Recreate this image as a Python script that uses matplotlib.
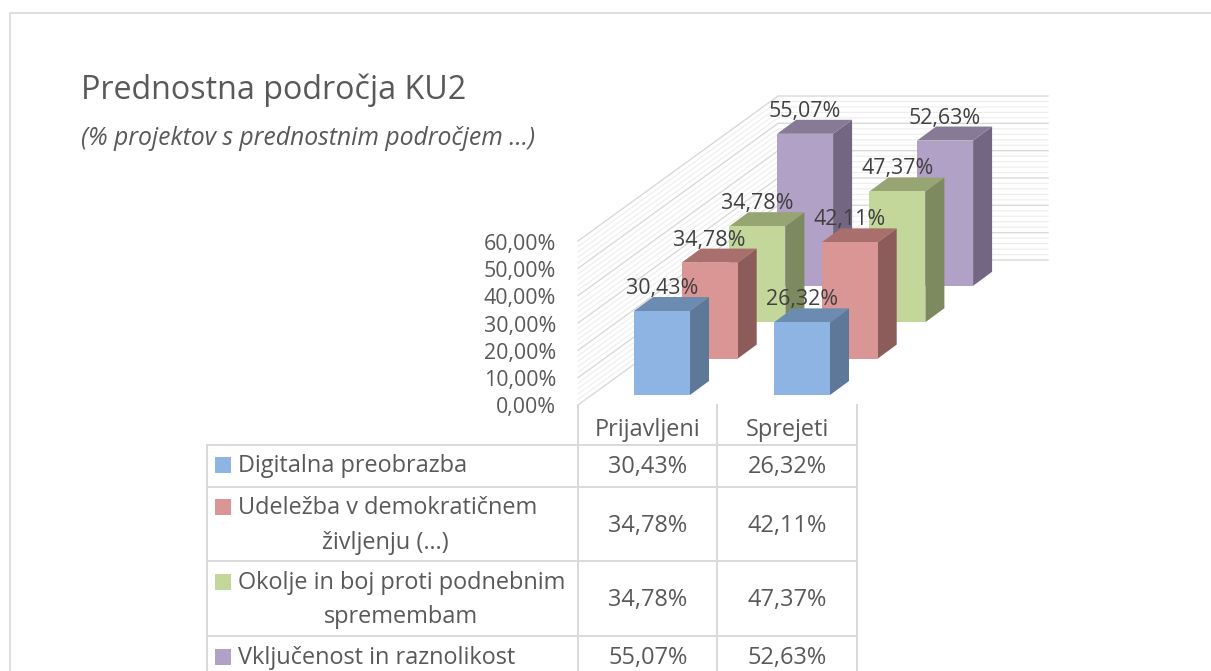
import matplotlib
matplotlib.use("Agg")
import matplotlib.pyplot as plt
from matplotlib.patches import Polygon, Rectangle

title = "Prednostna področja KU2"
subtitle = "(% projektov s prednostnim področjem ...)"
categories = ["Prijavljeni", "Sprejeti"]
series_names = [
    "Digitalna preobrazba",
    "Udeležba v demokratičnem\nživljenju (…)",
    "Okolje in boj proti podnebnim\nspremembam",
    "Vključenost in raznolikost",
]
digitalna = [30.43, 26.32]
udelezba = [34.78, 42.11]
okolje = [34.78, 47.37]
vkljucenost = [55.07, 52.63]
y_ticks = [0, 10, 20, 30, 40, 50, 60]

front_colors = ["#8DB4E3", "#DA9694", "#C4D79B", "#B2A1C7"]
side_colors = ["#5D7898", "#8C5C5B", "#7D8A60", "#736682"]
top_colors = ["#6C8BB0", "#A96F6D", "#97A573", "#867A97"]
TEXT = "#595959"
DARK = "#404040"
GRID = "#D9D9D9"
MINOR = "#EDEDED"
FONT = "Open Sans"
FS_AXIS = 15.4
FS_TABLE = 16.9

# oblique projection of the excel 3d chart, in pixels
X0, Y0 = 634, 395      # front left foot of first bar
CAT_STEP = 140
DEPTH_X, DEPTH_Y = 47.7, -36.4
BAR_W = 56
SIDE_X, SIDE_Y = 19, -14
PX_PER_PCT = 2.76
WALL_X, WALL_Y = 578, 405
WALL_BACK_X, WALL_BACK_Y = 778, 260
WALL_END_X = 1048
AXIS_PX_PER_PCT = 2.733


def fmt(v):
    return f"{v:.2f}%".replace(".", ",")


def bar_corners(cat, ser, value):
    left = X0 + cat * CAT_STEP + ser * DEPTH_X
    foot = Y0 + ser * DEPTH_Y
    return left, foot, foot - value * PX_PER_PCT


def draw_bar(ax, cat, ser, value):
    left, foot, top = bar_corners(cat, ser, value)
    right = left + BAR_W
    ax.add_patch(Polygon([(right, foot), (right, top), (right + SIDE_X, top + SIDE_Y),
                          (right + SIDE_X, foot + SIDE_Y)], fc=side_colors[ser], ec="none", zorder=3))
    ax.add_patch(Polygon([(left, top), (right, top), (right + SIDE_X, top + SIDE_Y),
                          (left + SIDE_X, top + SIDE_Y)], fc=top_colors[ser], ec="none", zorder=3))
    ax.add_patch(Rectangle((left, top), BAR_W, foot - top, fc=front_colors[ser], ec="none", zorder=3))


fig = plt.figure(figsize=(12.11, 6.71), dpi=100)
ax = fig.add_axes([0, 0, 1, 1])
ax.set_xlim(0, 1211)
ax.set_ylim(671, 0)
ax.axis("off")

# outer frame
ax.plot([1211, 10, 10], [12.5, 12.5, 671], color="#D9D9D9", lw=1.2)

ax.text(81, 90, title, fontsize=23.2, family=FONT, color=TEXT, va="center")
ax.text(81, 138.5, subtitle, fontsize=17.8, family=FONT, style="italic", color=TEXT, va="center")

# walls with gridlines, five minor steps per major
for i in range(0, 61, 2):
    h = i * AXIS_PX_PER_PCT
    major = i % 10 == 0
    col = GRID if major else MINOR
    lw = 1.0 if major else 0.8
    ax.plot([WALL_X, WALL_BACK_X, WALL_END_X],
            [WALL_Y - h, WALL_BACK_Y - h, WALL_BACK_Y - h], color=col, lw=lw, zorder=1 if not major else 2)

for v in y_ticks:
    ax.text(556, WALL_Y + 3 - v * AXIS_PX_PER_PCT, fmt(v), fontsize=FS_AXIS, family=FONT, color=TEXT,
            ha="right", va="center", zorder=6)

all_series = [digitalna, udelezba, okolje, vkljucenost]
for ser in range(3, -1, -1):
    for cat in (1, 0):
        draw_bar(ax, cat, ser, all_series[ser][cat])

for ser in range(4):
    for cat in range(2):
        left, foot, top = bar_corners(cat, ser, all_series[ser][cat])
        ax.text(left + BAR_W / 2, top - 22.5, fmt(all_series[ser][cat]), fontsize=FS_AXIS, family=FONT,
                color=DARK, ha="center", va="center", zorder=7)

# data table
col_x = [207, 578, 717, 857]
row_y = [445, 487, 561, 636, 671]
col_centers = [648, 787]
row_centers = [467, 526, 600, 658]
first_line_y = [466, 508, 583, 658]
second_line_y = [None, 543, 617, None]
second_line_x = [None, 385, 401, None]
tcol = "#D9D9D9"
for x in col_x[1:]:
    ax.plot([x, x], [405, 671], color=tcol, lw=1.4, zorder=5)
ax.plot([col_x[0], col_x[0]], [row_y[0], 671], color=tcol, lw=1.4, zorder=5)
for y in row_y[:-1]:
    ax.plot([col_x[0], col_x[-1]], [y, y], color=tcol, lw=1.4, zorder=5)

for cat, name in enumerate(categories):
    ax.text(col_centers[cat], 430, name, fontsize=FS_TABLE, family=FONT, color=TEXT, ha="center", va="center")

for ser, name in enumerate(series_names):
    lines = name.split("\n")
    ax.add_patch(Rectangle((215, first_line_y[ser] - 9), 16, 16, fc=front_colors[ser], ec="none", zorder=6))
    ax.text(238, first_line_y[ser], lines[0], fontsize=FS_TABLE, family=FONT, color=TEXT, va="center")
    if len(lines) > 1:
        ax.text(second_line_x[ser], second_line_y[ser], lines[1], fontsize=FS_TABLE, family=FONT, color=TEXT,
                ha="center", va="center")
    for cat in range(2):
        ax.text(col_centers[cat], row_centers[ser], fmt(all_series[ser][cat]), fontsize=FS_TABLE, family=FONT,
                color=TEXT, ha="center", va="center")

fig.savefig("out.png", dpi=100)
